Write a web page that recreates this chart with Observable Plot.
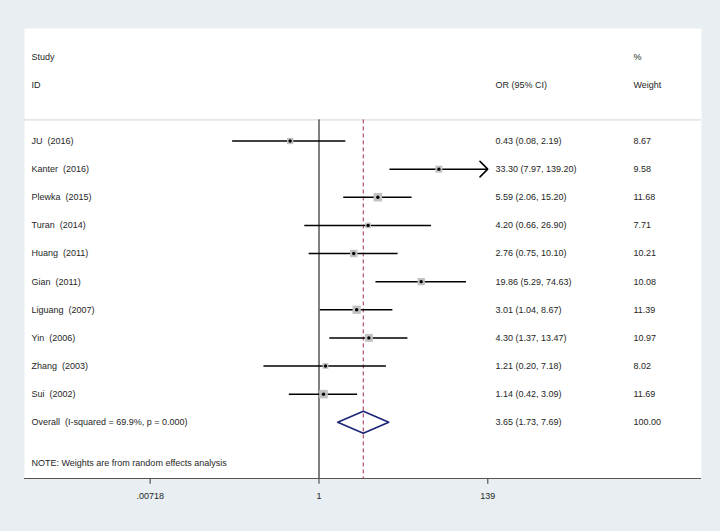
<!DOCTYPE html>
<html>
<head>
<meta charset="utf-8">
<script src="https://cdn.jsdelivr.net/npm/d3@7"></script>
<script src="https://cdn.jsdelivr.net/npm/@observablehq/plot@0.6"></script>
<style>
  html, body { margin: 0; padding: 0; background: #e8eef1; }
  svg text { white-space: pre; }
</style>
</head>
<body>
<div id="chart"></div>
<script>
// ---- data ----
const studies = ["JU  (2016)", "Kanter  (2016)", "Plewka  (2015)", "Turan  (2014)", "Huang  (2011)",
  "Gian  (2011)", "Liguang  (2007)", "Yin  (2006)", "Zhang  (2003)", "Sui  (2002)"];
const orValues = [0.43, 33.30, 5.59, 4.20, 2.76, 19.86, 3.01, 4.30, 1.21, 1.14];
const ciLower  = [0.08, 7.97, 2.06, 0.66, 0.75, 5.29, 1.04, 1.37, 0.20, 0.42];
const ciUpper  = [2.19, 139.20, 15.20, 26.90, 10.10, 74.63, 8.67, 13.47, 7.18, 3.09];
const weights  = [8.67, 9.58, 11.68, 7.71, 10.21, 10.08, 11.39, 10.97, 8.02, 11.69];
const overallLabel = "Overall  (I-squared = 69.9%, p = 0.000)";
const overallOR = 3.65, overallLower = 1.73, overallUpper = 7.69, overallWeight = 100.00;
const tickValues = [0.00718, 1, 139];
const tickLabels = [".00718", "1", "139"];
const noteText = "NOTE: Weights are from random effects analysis";

// ---- build table ----
const xMax = d3.max(tickValues), xMin = d3.min(tickValues);
const rows = studies.map((s, i) => ({
  study: s, row: i, or: orValues[i], lo: ciLower[i], hi: ciUpper[i], w: weights[i],
  loC: Math.max(ciLower[i], xMin), hiC: Math.min(ciUpper[i], xMax),
  clipped: ciUpper[i] > xMax
}));
const fmt = (v) => v.toFixed(2);
const ciText = (o, l, h) => `${fmt(o)} (${fmt(l)}, ${fmt(h)})`;
const overallRow = rows.length;
const sepRow = -0.75, bottomRow = 12, noteRow = 11.45;
const ticks = tickValues.map((v, i) => ({v, label: tickLabels[i]}));

const diamondH = 0.39;
const diamond = [
  {x: overallLower, y: overallRow},
  {x: overallOR, y: overallRow - diamondH},
  {x: overallUpper, y: overallRow},
  {x: overallOR, y: overallRow + diamondH},
  {x: overallLower, y: overallRow}
];

// x scale: 1 at ~318.5px, 34.2px per natural log unit; plot area 24..701
const pxPerLn = 34.2, onePx = 318.5, left = 24, right = 701;
const xDomain = [Math.exp((left - onePx) / pxPerLn), Math.exp((right - onePx) / pxPerLn)];

const font = "Liberation Sans, Arial, sans-serif";
const textColor = "#262626";
const fs = 9;

const chart = Plot.plot({
  width: 720,
  height: 531,
  marginLeft: left,
  marginRight: 720 - right,
  marginTop: 28,
  marginBottom: 53,
  style: {background: "#e8eef1", fontFamily: font, fontSize: fs + "px", color: textColor},
  x: {type: "log", domain: xDomain, axis: null},
  y: {type: "linear", domain: [bottomRow, -4], axis: null},
  r: {type: "linear", domain: [0, 11.69], range: [0, 4.8]},
  marks: [
    Plot.frame({fill: "white", stroke: "none"}),
    Plot.ruleY([sepRow], {stroke: "#d4d4d4", strokeWidth: 1}),
    Plot.ruleX([1], {y1: sepRow, y2: bottomRow, stroke: "#000", strokeWidth: 1}),
    Plot.ruleX([overallOR], {y1: sepRow, y2: bottomRow, stroke: "#a0304a", strokeWidth: 1, strokeDasharray: "4,3"}),
    // CI lines
    Plot.ruleY(rows.filter(d => !d.clipped), {y: "row", x1: "loC", x2: "hiC", stroke: "#000", strokeWidth: 1.5}),
    Plot.arrow(rows.filter(d => d.clipped), {x1: "loC", x2: "hiC", y1: "row", y2: "row", stroke: "#000", strokeWidth: 1.5, headLength: 11, headAngle: 90}),
    // weight squares
    Plot.dot(rows, {x: "or", y: "row", r: "w", symbol: "square", fill: "#c2c2c2", stroke: "none"}),
    Plot.dot(rows, {x: "or", y: "row", r: 1.7, symbol: "circle", fill: "#000", stroke: "none"}),
    // overall diamond
    Plot.line(diamond, {x: "x", y: "y", stroke: "#1c2577", strokeWidth: 1.6}),
    // headers
    Plot.text(["Study", "ID"], {y: [-3, -2], frameAnchor: "left", dx: 7, textAnchor: "start", fill: textColor}),
    Plot.text(["OR (95% CI)"], {y: [-2], frameAnchor: "right", dx: -206, textAnchor: "start", fill: textColor}),
    Plot.text(["%", "Weight"], {y: [-3, -2], frameAnchor: "right", dx: -68, textAnchor: "start", fill: textColor}),
    // row texts
    Plot.text(rows, {y: "row", text: "study", frameAnchor: "left", dx: 7, textAnchor: "start", fill: textColor}),
    Plot.text(rows, {y: "row", text: d => ciText(d.or, d.lo, d.hi), frameAnchor: "right", dx: -206, textAnchor: "start", fill: textColor}),
    Plot.text(rows, {y: "row", text: d => fmt(d.w), frameAnchor: "right", dx: -68, textAnchor: "start", fill: textColor}),
    Plot.text([overallLabel], {y: [overallRow], frameAnchor: "left", dx: 7, textAnchor: "start", fill: textColor}),
    Plot.text([ciText(overallOR, overallLower, overallUpper)], {y: [overallRow], frameAnchor: "right", dx: -206, textAnchor: "start", fill: textColor}),
    Plot.text([fmt(overallWeight)], {y: [overallRow], frameAnchor: "right", dx: -68, textAnchor: "start", fill: textColor}),
    Plot.text([noteText], {y: [noteRow], frameAnchor: "left", dx: 7, textAnchor: "start", fill: textColor}),
    // axis
    Plot.ruleY([bottomRow], {stroke: "#555", strokeWidth: 1.2}),
    Plot.ruleX(ticks, {x: "v", y1: bottomRow, y2: bottomRow + 0.2, stroke: "#555", strokeWidth: 1.2}),
    Plot.text(ticks, {x: "v", y: bottomRow, text: "label", dy: 17.5, fill: textColor})
  ]
});
document.getElementById("chart").appendChild(chart);
</script>
</body>
</html>
